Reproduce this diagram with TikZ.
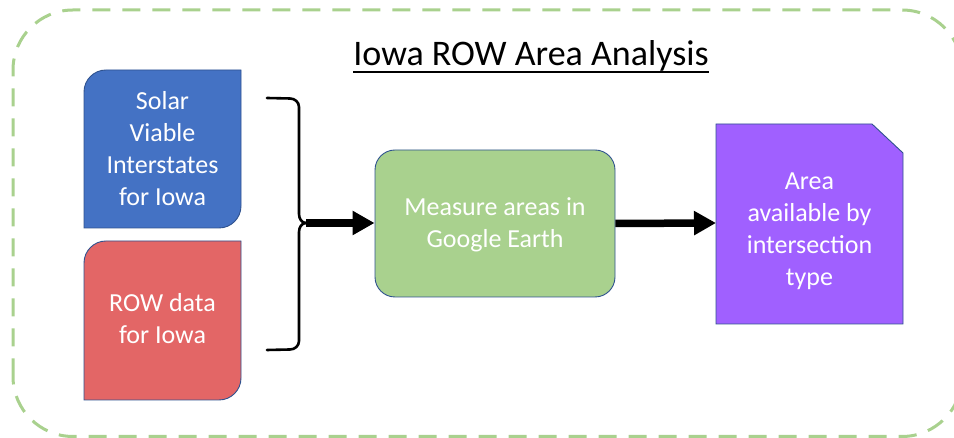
\documentclass[tikz,border=0pt]{standalone}
\usepackage{fontspec}
\setmainfont{Carlito}
\usetikzlibrary{arrows.meta}

\definecolor{boxline}{RGB}{47,82,143}
\definecolor{solarblue}{RGB}{68,114,196}
\definecolor{rowred}{RGB}{227,102,102}
\definecolor{measuregreen}{RGB}{169,209,142}
\definecolor{resultpurple}{RGB}{160,96,255}
\definecolor{framegreen}{RGB}{169,209,142}

\tikzset{
  shapeline/.style={draw=boxline, line width=0.9pt},
  boxtext/.style={text=white, align=center, inner sep=0pt,
    font=\fontsize{26}{32}\selectfont},
  bracket/.style={line width=2.6pt, line cap=round, line join=round},
  flow/.style={line width=7.5pt, -{Triangle[length=22pt,width=23pt]}},
}

\begin{document}
\begin{tikzpicture}[x=1pt,y=1pt]
\useasboundingbox (0,0) rectangle (954,438);

% dashed outer frame
\draw[framegreen, line width=3pt, dash pattern=on 18pt off 12pt,
      rounded corners=60pt] (13,1.5) rectangle (962,428);

% title
\node[inner sep=0pt, anchor=base, font=\fontsize{36}{40}\selectfont]
  (title) at (531,372) {Iowa ROW Area Analysis};
\draw[line width=2.2pt] ([yshift=-6pt]title.base west) -- ([yshift=-6pt]title.base east);

% input boxes: rounded top-left and bottom-right corners
\filldraw[fill=solarblue, shapeline]
  (84,210) -- (84,346) arc[start angle=180,end angle=90,radius=22]
  -- (241,368) -- (241,232) arc[start angle=0,end angle=-90,radius=22] -- cycle;
\node[boxtext] (solar) at (162.5,289.5) {Solar\\Viable\\Interstates\\for Iowa};

\filldraw[fill=rowred, shapeline]
  (84,38) -- (84,175) arc[start angle=180,end angle=90,radius=22]
  -- (241,197) -- (241,60) arc[start angle=0,end angle=-90,radius=22] -- cycle;
\node[boxtext] (row) at (162.5,119) {ROW data\\for Iowa};

% process box
\node[shapeline, fill=measuregreen, rounded corners=20pt,
      minimum width=240pt, minimum height=147pt, inner sep=0pt]
  (measure) at (495,214.5) {};
\node[boxtext] (measuretext) at (495,213) {Measure areas in\\Google Earth};

% result box with clipped top-right corner
\coordinate (result) at (716,215);
\filldraw[fill=resultpurple, shapeline]
  (716,114) -- (716,314) -- (872,314) -- (903,285) -- (903,114) -- cycle;
\node[boxtext] (resulttext) at (809.5,206.5) {Area\\available by\\intersection\\type};

% brace joining the two inputs
\coordinate (bracetip) at (306,215);
\coordinate (bracetop) at (267,340);
\coordinate (bracebot) at (267,88);
\draw[bracket] (bracetop) -- (290,339.5) to[out=0,in=90] (299,331)
  -- (299,224) to[out=-90,in=180] (bracetip);
\draw[bracket] (bracebot) -- (290,88.5) to[out=0,in=-90] (299,97)
  -- (299,206) to[out=90,in=180] (bracetip);

% flow arrows
\draw[flow] (bracetip) -- (bracetip -| measure.west);
\draw[flow] (measure.east) -- (result);
\end{tikzpicture}
\end{document}
